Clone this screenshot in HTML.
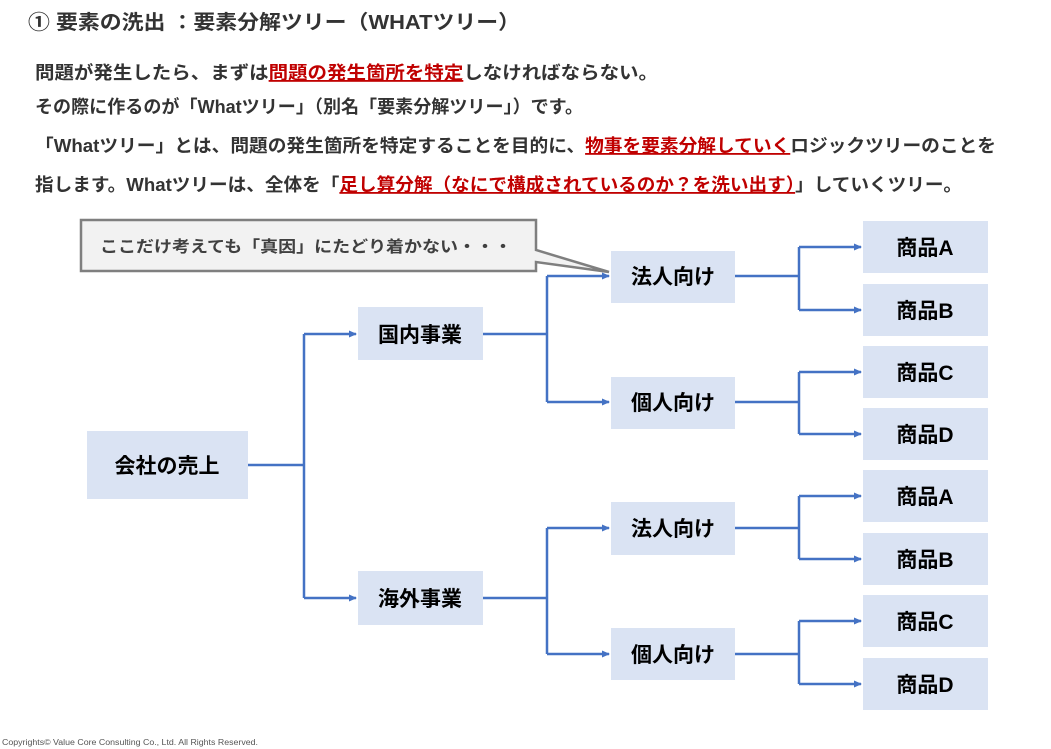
<!DOCTYPE html>
<html><head><meta charset="utf-8"><style>
html,body{margin:0;padding:0;background:#fff;}
svg{display:block;}
text{font-family:"Liberation Sans","Noto Sans CJK JP",sans-serif;}
.b{fill:#333;font-size:18px;font-weight:bold;}
.r{fill:#c00000;text-decoration:underline;}
.n{fill:#000;font-size:21px;font-weight:bold;text-anchor:middle;}
</style></head><body>
<svg width="1051" height="749" viewBox="0 0 1051 749">
<defs><marker id="a" markerWidth="8" markerHeight="8" refX="7" refY="4" orient="auto" markerUnits="userSpaceOnUse"><path d="M0,0.5 L8,4 L0,7.5z" fill="#4472c4"/></marker></defs>
<text x="28" y="29" style="fill:#333;font-size:20px;font-weight:bold" textLength="492" lengthAdjust="spacingAndGlyphs">① 要素の洗出 ：要素分解ツリー（WHATツリー）</text>
<text class="b" x="35" y="79" textLength="623" lengthAdjust="spacingAndGlyphs">問題が発生したら、まずは<tspan class="r">問題の発生箇所を特定</tspan>しなければならない。</text>
<text class="b" x="35" y="113" textLength="548" lengthAdjust="spacingAndGlyphs">その際に作るのが「Whatツリー」（別名「要素分解ツリー」）です。</text>
<text class="b" x="35" y="152" textLength="961" lengthAdjust="spacingAndGlyphs">「Whatツリー」とは、問題の発生箇所を特定することを目的に、<tspan class="r">物事を要素分解していく</tspan>ロジックツリーのことを</text>
<text class="b" x="35" y="191" textLength="927" lengthAdjust="spacingAndGlyphs">指します。Whatツリーは、全体を「<tspan class="r">足し算分解（なにで構成されているのか？を洗い出す）</tspan>」していくツリー。</text>

<path d="M81,220 H536 V250 L609,272 L536,262 V271 H81 Z" fill="#f2f2f2" stroke="#7f7f7f" stroke-width="2.5"/>
<text x="100" y="252" style="fill:#404040;font-size:16px;font-weight:bold" textLength="412" lengthAdjust="spacingAndGlyphs">ここだけ考えても「真因」にたどり着かない・・・</text>

<g fill="#dae3f3">
<rect x="87" y="431" width="161" height="68"/>
<rect x="358" y="307" width="125" height="53"/>
<rect x="358" y="571" width="125" height="54"/>
<rect x="611" y="251" width="124" height="52"/>
<rect x="611" y="377" width="124" height="52"/>
<rect x="611" y="502" width="124" height="53"/>
<rect x="611" y="628" width="124" height="52"/>
<rect x="863" y="221" width="125" height="52"/>
<rect x="863" y="284" width="125" height="52"/>
<rect x="863" y="346" width="125" height="52"/>
<rect x="863" y="408" width="125" height="52"/>
<rect x="863" y="470" width="125" height="52"/>
<rect x="863" y="533" width="125" height="52"/>
<rect x="863" y="595" width="125" height="52"/>
<rect x="863" y="658" width="125" height="52"/>
</g>
<g stroke="#4472c4" stroke-width="2.5" fill="none">
<path d="M248,465 H304 M304,334 V598"/>
<path d="M304,334 H356" marker-end="url(#a)"/><path d="M304,598 H356" marker-end="url(#a)"/>
<path d="M483,334 H547 M547,276 V402 M483,598 H547 M547,528 V654"/>
<path d="M547,276 H609" marker-end="url(#a)"/><path d="M547,402 H609" marker-end="url(#a)"/>
<path d="M547,528 H609" marker-end="url(#a)"/><path d="M547,654 H609" marker-end="url(#a)"/>
<path d="M735,276 H799 M799,247 V310 M735,402 H799 M799,372 V434 M735,528 H799 M799,496 V559 M735,654 H799 M799,621 V684"/>
<path d="M799,247 H861" marker-end="url(#a)"/><path d="M799,310 H861" marker-end="url(#a)"/>
<path d="M799,372 H861" marker-end="url(#a)"/><path d="M799,434 H861" marker-end="url(#a)"/>
<path d="M799,496 H861" marker-end="url(#a)"/><path d="M799,559 H861" marker-end="url(#a)"/>
<path d="M799,621 H861" marker-end="url(#a)"/><path d="M799,684 H861" marker-end="url(#a)"/>
</g>
<text class="n" x="167" y="473">会社の売上</text>
<text class="n" x="420" y="342">国内事業</text>
<text class="n" x="420" y="606">海外事業</text>
<text class="n" x="673" y="284">法人向け</text>
<text class="n" x="673" y="410">個人向け</text>
<text class="n" x="673" y="536">法人向け</text>
<text class="n" x="673" y="662">個人向け</text>
<text class="n" x="925" y="255">商品A</text>
<text class="n" x="925" y="318">商品B</text>
<text class="n" x="925" y="380">商品C</text>
<text class="n" x="925" y="442">商品D</text>
<text class="n" x="925" y="504">商品A</text>
<text class="n" x="925" y="567">商品B</text>
<text class="n" x="925" y="629">商品C</text>
<text class="n" x="925" y="692">商品D</text>
<text x="2" y="745" style="fill:#555;font-size:8px" textLength="256" lengthAdjust="spacingAndGlyphs">Copyrights© Value Core Consulting Co., Ltd.  All Rights Reserved.</text>
</svg>
</body></html>
